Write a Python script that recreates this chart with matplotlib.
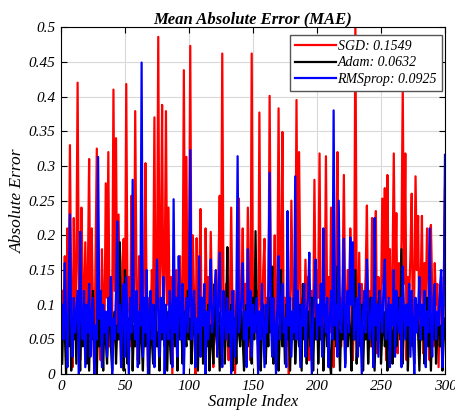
import matplotlib.pyplot as plt
import numpy as np

plt.rcParams['font.family'] = ['Liberation Serif', 'DejaVu Serif']

# MAE per sample
sgd = [0.12, 0.08, 0.17, 0.04, 0.21, 0.09, 0.33, 0.11, 0.01, 0.225, 0.07, 0.15, 0.42, 0.10, 0.02, 0.24, 0.13, 0.06, 0.19, 0.08,
       0.14, 0.31, 0.04, 0.21, 0.10, 0.0, 0.16, 0.325, 0.07, 0.12, 0.02, 0.18, 0.09, 0.06, 0.275, 0.11, 0.32, 0.04, 0.14, 0.08,
       0.41, 0.12, 0.34, 0.07, 0.23, 0.10, 0.01, 0.16, 0.195, 0.06, 0.418, 0.09, 0.14, 0.04, 0.257, 0.11, 0.08, 0.379, 0.13, 0.02,
       0.17, 0.09, 0.12, 0.06, 0.15, 0.304, 0.08, 0.01, 0.11, 0.07, 0.15, 0.10, 0.37, 0.04, 0.12, 0.486, 0.09, 0.16, 0.388, 0.07,
       0.13, 0.379, 0.10, 0.24, 0.06, 0.14, 0.0, 0.11, 0.08, 0.15, 0.04, 0.12, 0.17, 0.07, 0.10, 0.438, 0.09, 0.313, 0.06, 0.13,
       0.473, 0.08, 0.20, 0.11, 0.0, 0.196, 0.07, 0.13, 0.238, 0.04, 0.10, 0.02, 0.21, 0.09, 0.14, 0.06, 0.205, 0.11, 0.01, 0.08,
       0.12, 0.06, 0.15, 0.257, 0.09, 0.462, 0.10, 0.04, 0.13, 0.07, 0.02, 0.11, 0.24, 0.08, 0.12, 0.0, 0.09, 0.14, 0.253, 0.06,
       0.10, 0.21, 0.04, 0.13, 0.08, 0.24, 0.11, 0.02, 0.462, 0.09, 0.14, 0.06, 0.12, 0.01, 0.377, 0.10, 0.07, 0.15, 0.195, 0.04,
       0.11, 0.08, 0.401, 0.13, 0.06, 0.10, 0.20, 0.02, 0.12, 0.383, 0.09, 0.15, 0.349, 0.07, 0.11, 0.04, 0.14, 0.0, 0.09, 0.25,
       0.12, 0.06, 0.10, 0.395, 0.08, 0.32, 0.13, 0.04, 0.11, 0.07, 0.165, 0.09, 0.14, 0.02, 0.10, 0.12, 0.06, 0.28, 0.08, 0.15,
       0.11, 0.318, 0.07, 0.13, 0.04, 0.10, 0.314, 0.08, 0.14, 0.06, 0.24, 0.12, 0.01, 0.09, 0.16, 0.32, 0.07, 0.11, 0.04, 0.13,
       0.287, 0.10, 0.06, 0.15, 0.08, 0.21, 0.12, 0.02, 0.09, 0.51, 0.11, 0.07, 0.175, 0.04, 0.13, 0.08, 0.10, 0.14, 0.243, 0.06,
       0.12, 0.04, 0.225, 0.01, 0.11, 0.235, 0.03, 0.14, 0.06, 0.10, 0.253, 0.13, 0.268, 0.02, 0.287, 0.11, 0.18, 0.04, 0.15, 0.318,
       0.12, 0.232, 0.03, 0.16, 0.10, 0.19, 0.412, 0.13, 0.318, 0.02, 0.14, 0.11, 0.17, 0.26, 0.04, 0.12, 0.285, 0.15, 0.228, 0.05,
       0.13, 0.228, 0.03, 0.16, 0.11, 0.21, 0.14, 0.02, 0.215, 0.12, 0.04, 0.16, 0.10, 0.13, 0.01, 0.11, 0.14, 0.03, 0.12, 0.268]

adam = [0.015, 0.10, 0.06, 0.0, 0.08, 0.04, 0.13, 0.005, 0.07, 0.05, 0.09, 0.015, 0.11, 0.06, 0.005, 0.08, 0.04, 0.10, 0.05, 0.015,
        0.07, 0.005, 0.09, 0.05, 0.12, 0.015, 0.06, 0.0, 0.08, 0.04, 0.10, 0.06, 0.005, 0.09, 0.05, 0.015, 0.07, 0.11, 0.04, 0.005,
        0.06, 0.09, 0.015, 0.07, 0.05, 0.19, 0.04, 0.10, 0.005, 0.15, 0.06, 0.015, 0.08, 0.05, 0.11, 0.005, 0.07, 0.04, 0.09, 0.06,
        0.015, 0.10, 0.05, 0.005, 0.08, 0.04, 0.12, 0.06, 0.0, 0.09, 0.05, 0.015, 0.07, 0.10, 0.04, 0.06, 0.005, 0.08, 0.05, 0.11,
        0.04, 0.07, 0.005, 0.09, 0.05, 0.015, 0.10, 0.06, 0.04, 0.08, 0.005, 0.11, 0.05, 0.07, 0.015, 0.09, 0.06, 0.04, 0.12, 0.05,
        0.08, 0.015, 0.06, 0.10, 0.04, 0.07, 0.005, 0.09, 0.05, 0.11, 0.015, 0.06, 0.08, 0.04, 0.10, 0.005, 0.07, 0.05, 0.015, 0.13,
        0.06, 0.04, 0.09, 0.005, 0.07, 0.05, 0.11, 0.015, 0.08, 0.183, 0.04, 0.06, 0.10, 0.005, 0.05, 0.08, 0.015, 0.11, 0.06, 0.04,
        0.09, 0.05, 0.005, 0.07, 0.10, 0.04, 0.06, 0.08, 0.015, 0.11, 0.05, 0.206, 0.07, 0.04, 0.09, 0.005, 0.06, 0.10, 0.05, 0.015,
        0.08, 0.04, 0.11, 0.06, 0.155, 0.015, 0.07, 0.05, 0.09, 0.005, 0.06, 0.15, 0.04, 0.08, 0.015, 0.10, 0.05, 0.07, 0.005, 0.09,
        0.05, 0.11, 0.015, 0.06, 0.08, 0.04, 0.10, 0.005, 0.13, 0.05, 0.07, 0.015, 0.09, 0.06, 0.04, 0.11, 0.005, 0.08, 0.05, 0.10,
        0.015, 0.07, 0.05, 0.09, 0.005, 0.06, 0.10, 0.04, 0.08, 0.015, 0.0, 0.07, 0.05, 0.09, 0.04, 0.155, 0.06, 0.005, 0.08, 0.05,
        0.10, 0.015, 0.07, 0.04, 0.09, 0.06, 0.005, 0.11, 0.05, 0.15, 0.015, 0.08, 0.06, 0.04, 0.10, 0.005, 0.07, 0.05, 0.09, 0.015,
        0.06, 0.11, 0.04, 0.08, 0.005, 0.07, 0.05, 0.10, 0.12, 0.015, 0.06, 0.09, 0.04, 0.07, 0.005, 0.10, 0.05, 0.08, 0.015, 0.06,
        0.09, 0.04, 0.07, 0.11, 0.05, 0.18, 0.015, 0.08, 0.06, 0.10, 0.005, 0.07, 0.04, 0.09, 0.05, 0.015, 0.08, 0.10, 0.06, 0.005,
        0.07, 0.05, 0.09, 0.015, 0.06, 0.11, 0.04, 0.08, 0.005, 0.07, 0.05, 0.10, 0.015, 0.06, 0.09, 0.04, 0.07, 0.005, 0.05, 0.08]

rmsprop = [0.10, 0.05, 0.16, 0.08, 0.01, 0.12, 0.23, 0.07, 0.025, 0.11, 0.06, 0.09, 0.12, 0.0, 0.205, 0.08, 0.05, 0.12, 0.01, 0.10,
           0.06, 0.13, 0.025, 0.09, 0.11, 0.0, 0.07, 0.05, 0.313, 0.08, 0.12, 0.01, 0.10, 0.06, 0.09, 0.025, 0.11, 0.07, 0.14, 0.0,
           0.08, 0.05, 0.12, 0.22, 0.06, 0.10, 0.01, 0.09, 0.13, 0.025, 0.14, 0.07, 0.0, 0.11, 0.06, 0.28, 0.08, 0.05, 0.12, 0.01,
           0.09, 0.07, 0.449, 0.025, 0.11, 0.06, 0.15, 0.0, 0.08, 0.12, 0.05, 0.10, 0.01, 0.07, 0.165, 0.09, 0.025, 0.11, 0.06, 0.14,
           0.0, 0.10, 0.07, 0.05, 0.12, 0.08, 0.01, 0.252, 0.06, 0.11, 0.025, 0.17, 0.09, 0.05, 0.13, 0.0, 0.08, 0.11, 0.06, 0.10,
           0.323, 0.05, 0.09, 0.12, 0.01, 0.08, 0.06, 0.17, 0.025, 0.11, 0.07, 0.13, 0.0, 0.09, 0.05, 0.10, 0.165, 0.06, 0.08, 0.12,
           0.15, 0.025, 0.10, 0.175, 0.07, 0.01, 0.12, 0.08, 0.05, 0.11, 0.06, 0.09, 0.0, 0.12, 0.07, 0.025, 0.10, 0.314, 0.06, 0.08,
           0.11, 0.16, 0.05, 0.09, 0.01, 0.18, 0.07, 0.12, 0.025, 0.10, 0.06, 0.08, 0.11, 0.0, 0.09, 0.05, 0.13, 0.07, 0.01, 0.10,
           0.06, 0.12, 0.29, 0.08, 0.025, 0.11, 0.07, 0.0, 0.09, 0.17, 0.05, 0.10, 0.13, 0.06, 0.08, 0.01, 0.235, 0.07, 0.11, 0.025,
           0.09, 0.06, 0.285, 0.05, 0.12, 0.08, 0.01, 0.10, 0.07, 0.13, 0.025, 0.09, 0.11, 0.175, 0.06, 0.0, 0.08, 0.12, 0.165, 0.05,
           0.10, 0.07, 0.13, 0.025, 0.21, 0.09, 0.06, 0.11, 0.01, 0.08, 0.12, 0.05, 0.38, 0.07, 0.10, 0.025, 0.25, 0.08, 0.06, 0.11,
           0.195, 0.01, 0.09, 0.12, 0.06, 0.197, 0.10, 0.19, 0.05, 0.08, 0.11, 0.025, 0.13, 0.07, 0.0, 0.09, 0.12, 0.06, 0.165, 0.10,
           0.05, 0.08, 0.11, 0.01, 0.225, 0.07, 0.10, 0.025, 0.12, 0.09, 0.06, 0.13, 0.165, 0.05, 0.08, 0.11, 0.01, 0.10, 0.07, 0.15,
           0.025, 0.12, 0.08, 0.06, 0.11, 0.01, 0.155, 0.09, 0.05, 0.10, 0.07, 0.13, 0.025, 0.12, 0.08, 0.0, 0.11, 0.06, 0.09, 0.14,
           0.05, 0.10, 0.07, 0.12, 0.01, 0.09, 0.06, 0.21, 0.08, 0.025, 0.11, 0.13, 0.05, 0.09, 0.07, 0.12, 0.15, 0.01, 0.10, 0.316]

labels = ['SGD: 0.1549', 'Adam: 0.0632', 'RMSprop: 0.0925']
colors = ['red', 'black', 'blue']
x_ticks = [0, 50, 100, 150, 200, 250, 300]
y_ticks = [0, 0.05, 0.1, 0.15, 0.2, 0.25, 0.3, 0.35, 0.4, 0.45, 0.5]
y_ticklabels = ['0', '0.05', '0.1', '0.15', '0.2', '0.25', '0.3', '0.35', '0.4', '0.45', '0.5']

idx = np.arange(1, len(sgd) + 1)

fig = plt.figure(figsize=(4.55, 4.18), dpi=100)
ax = fig.add_axes([0.134, 0.105, 0.844, 0.83])

for series, lab, c in zip([sgd, adam, rmsprop], labels, colors):
    ax.plot(idx, series, color=c, lw=1.6, label=lab)

ax.set_xlim(0, 300)
ax.set_ylim(0, 0.5)
ax.set_xticks(x_ticks)
ax.set_xticklabels([str(t) for t in x_ticks], fontstyle='italic', fontsize=11)
ax.set_yticks(y_ticks)
ax.set_yticklabels(y_ticklabels, fontstyle='italic', fontsize=11)
ax.tick_params(direction='in', top=True, right=True, length=4, width=0.8, pad=4)
ax.grid(True, color='#d9d9d9', lw=0.8)
ax.set_axisbelow(True)
for s in ax.spines.values():
    s.set_linewidth(0.8)

ax.set_title('Mean Absolute Error (MAE)', fontstyle='italic', fontweight='bold', fontsize=12, pad=3)
ax.set_xlabel('Sample Index', fontstyle='italic', fontsize=12, labelpad=1)
ax.set_ylabel('Absolute Error', fontstyle='italic', fontsize=12.5, labelpad=2)

leg = ax.legend(loc='upper right', bbox_to_anchor=(0.992, 0.977), borderaxespad=0,
                prop={'style': 'italic', 'size': 10}, fancybox=False,
                edgecolor='#555555', framealpha=1, borderpad=0.35, labelspacing=0.25,
                handlelength=3.0, handletextpad=0.1)
leg.get_frame().set_linewidth(1.0)

fig.savefig('out.png', dpi=100)
